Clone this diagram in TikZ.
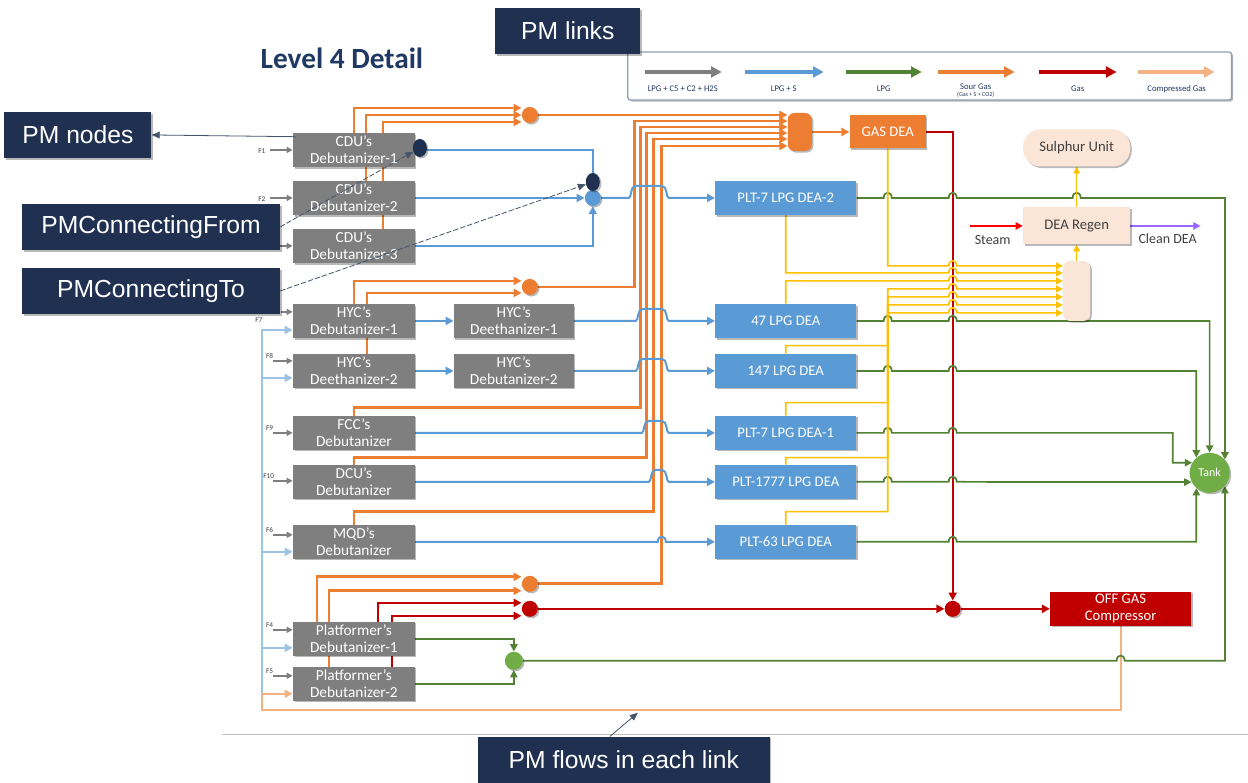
\documentclass[tikz,border=0pt]{standalone}
\usepackage{fontspec}
\setmainfont{Carlito}
\newfontfamily\arialf{Liberation Sans}
\usetikzlibrary{arrows.meta,calc,shapes.geometric,shadows}
\pgfdeclarelayer{paper}
\pgfdeclarelayer{bg}
\pgfsetlayers{paper,bg,main}

\definecolor{boxgray}{HTML}{7F7F7F}
\definecolor{lpgblue}{HTML}{5B9BD5}
\definecolor{lightblue}{HTML}{9DC3E6}
\definecolor{sour}{HTML}{ED7D31}
\definecolor{comp}{HTML}{F4B183}
\definecolor{gasred}{HTML}{C00000}
\definecolor{lpggreen}{HTML}{548235}
\definecolor{tankgreen}{HTML}{70AD47}
\definecolor{amine}{HTML}{FFC000}
\definecolor{pmnavy}{HTML}{1F3050}
\definecolor{titleblue}{HTML}{1F3864}
\definecolor{beige}{HTML}{FBE5D6}
\definecolor{cleanpurple}{HTML}{9966FF}
\definecolor{steamred}{HTML}{FF0000}
\definecolor{annotgray}{HTML}{44546A}
\definecolor{darktext}{HTML}{404040}
\definecolor{legborder}{HTML}{8EA0B8}

\tikzset{
  shad/.style={drop shadow={shadow xshift=1.2pt,shadow yshift=-1.2pt,opacity=.28,fill=black}},
  unitbox/.style={rectangle,fill=boxgray,text=white,minimum width=91.5pt,minimum height=25.5pt,
    inner sep=0pt,align=center,font=\fontsize{11.5}{12.8}\selectfont,shad},
  deabox/.style={rectangle,fill=lpgblue,text=white,minimum width=105.75pt,minimum height=25.5pt,
    inner sep=0pt,font=\fontsize{11}{13}\selectfont,shad},
  pmbox/.style={rectangle,fill=pmnavy,text=white,inner sep=0pt,minimum height=34.5pt,
    font=\arialf\fontsize{18.5}{22}\selectfont,shad},
  junc/.style={circle,minimum size=12pt,inner sep=0pt,shad},
  pmdot/.style={ellipse,fill=pmnavy,minimum width=10.5pt,minimum height=13.5pt,inner sep=0pt,shad},
  flabel/.style={font=\fontsize{5.5}{6}\selectfont,text=darktext,inner sep=0pt},
  legtxt/.style={font=\fontsize{6.5}{7.5}\selectfont,text=titleblue,inner sep=0pt},
  bigtip/.style={-{Triangle[length=6pt,width=6pt]}},
  sourln/.style={draw=sour,line width=2pt,bigtip},
  gasln/.style={draw=gasred,line width=1.8pt,bigtip},
  lpgln/.style={draw=lpgblue,line width=1.5pt,bigtip},
  lbln/.style={draw=lightblue,line width=1.5pt,bigtip},
  compln/.style={draw=comp,line width=1.5pt,bigtip},
  lpggr/.style={draw=lpggreen,line width=1.3pt,-{Triangle[length=5.5pt,width=5.5pt]}},
  amln/.style={draw=amine,line width=1.2pt,-{Triangle[length=5pt,width=5pt]}},
  feedln/.style={draw=boxgray,line width=1.2pt,-{Triangle[length=4.5pt,width=4.5pt]}},
  annotln/.style={draw=annotgray,line width=0.6pt,-{Triangle[length=6pt,width=5pt]}},
  legarr/.style={line width=2.6pt,-{Triangle[length=8pt,width=8pt]}},
  % small jump of a line over a crossing line at x=#1, height y=#2
  smallhop/.style args={#1/#2}{insert path={-- (#1-4,#2) .. controls (#1-4,#2-7) and (#1+4,#2-7) .. (#1+4,#2)}},
  % wide jump over a bundle of lines from x=#1 to x=#2 at height y=#3
  bighop/.style args={#1/#2/#3}{insert path={-- (#1,#3) .. controls (#1+3,#3) and (#1+1,#3-12) .. (#1+7,#3-12)
      -- (#2-7,#3-12) .. controls (#2-1,#3-12) and (#2-3,#3) .. (#2,#3)}}
}

\begin{document}
\begin{tikzpicture}[x=0.75pt,y=-0.75pt]

\begin{pgfonlayer}{paper}
  \fill[white] (0,0) rectangle (1248,783);
  \draw[black!25,line width=0.6pt] (222,735) -- (1248,735);
\end{pgfonlayer}
\useasboundingbox (0,0) rectangle (1248,783);

% ---------- title and legend ----------
\node[font=\bfseries\fontsize{22}{26}\selectfont,text=titleblue] (title) at (342,58) {Level 4 Detail};

\node[rectangle,draw=legborder,line width=1pt,fill=white,rounded corners=2pt,
      minimum width=453pt,minimum height=36pt,shad] (legend) at (930,76) {};
\draw[legarr,boxgray]     (645,72) -- (722,72);
\draw[legarr,lpgblue]     (745,72) -- (824,72);
\draw[legarr,lpggreen]    (846,72) -- (922,72);
\draw[legarr,sour]        (938,72) -- (1015,72);
\draw[legarr,gasred]      (1039,72) -- (1117,72);
\draw[legarr,comp]        (1138,72) -- (1215,72);
\node[legtxt] (lg1) at (683,89) {LPG + C5 + C2 + H2S};
\node[legtxt] (lg2) at (784,89) {LPG + S};
\node[legtxt] (lg3) at (884,89) {LPG};
\node[legtxt] (lg4) at (976,87) {Sour Gas};
\node[legtxt,font=\fontsize{4.5}{5}\selectfont] (lg4b) at (976,95) {(Gas + S + CO2)};
\node[legtxt] (lg5) at (1078,89) {Gas};
\node[legtxt] (lg6) at (1177,89) {Compressed Gas};

% ---------- process units ----------
\node[unitbox] (cdu1) at (354,150) {CDU’s\\Debutanizer-1};
\node[unitbox] (cdu2) at (354,198) {CDU’s\\Debutanizer-2};
\node[unitbox] (cdu3) at (354,246) {CDU’s\\Debutanizer-3};
\node[unitbox] (hyc1) at (354,321) {HYC’s\\Debutanizer-1};
\node[unitbox] (hyc2) at (354,371) {HYC’s\\Deethanizer-2};
\node[unitbox,minimum width=90pt] (hyd1) at (514,321) {HYC’s\\Deethanizer-1};
\node[unitbox,minimum width=90pt] (hyd2) at (514,371) {HYC’s\\Debutanizer-2};
\node[unitbox] (fcc) at (354,433) {FCC’s\\Debutanizer};
\node[unitbox] (dcu) at (354,482) {DCU’s\\Debutanizer};
\node[unitbox] (mqd) at (354,542) {MQD’s\\Debutanizer};
\node[unitbox] (plat1) at (354,639) {Platformer’s\\Debutanizer-1};
\node[unitbox] (plat2) at (354,684) {Platformer’s\\Debutanizer-2};

% feed labels
\node[flabel] (f1) at (262,151) {F1};
\node[flabel] (f2) at (262,199) {F2};
\node[flabel] (f7) at (259,320) {F7};
\node[flabel] (f8) at ($(hyc2.west)+(-23,-15)$) {F8};
\node[flabel] (f9) at ($(fcc.west)+(-23,-5)$) {F9};
\node[flabel] (f10) at ($(dcu.west)+(-24,-6)$) {F10};
\node[flabel] (f6) at ($(mqd.west)+(-23,-12)$) {F6};
\node[flabel] (f4) at ($(plat1.west)+(-23,-14)$) {F4};
\node[flabel] (f5) at ($(plat2.west)+(-23,-13)$) {F5};

% DEA absorbers
\node[deabox] (dea72) at (786,198) {PLT-7 LPG DEA-2};
\node[deabox] (dea47) at (786,321) {47 LPG DEA};
\node[deabox] (dea147) at (786,371) {147 LPG DEA};
\node[deabox] (dea71) at (786,433) {PLT-7 LPG DEA-1};
\node[deabox] (dea1777) at (786,482) {PLT-1777 LPG DEA};
\node[deabox] (dea63) at (786,542) {PLT-63 LPG DEA};

\node[rectangle,fill=sour,text=white,minimum width=57pt,minimum height=24.75pt,inner sep=0pt,
      font=\fontsize{11}{12}\selectfont,shad] (gasdea) at (888,132) {GAS DEA};
\node[rectangle,fill=sour,rounded corners=5pt,minimum width=18pt,minimum height=28.5pt,shad] (omerge) at (800,132) {};

\node[rectangle,fill=gasred,text=white,minimum width=105.75pt,minimum height=25.5pt,inner sep=0pt,align=center,
      font=\fontsize{11}{12.8}\selectfont,shad] (offgas) at (1121,609) {OFF GAS\\Compressor};

\node[rectangle,fill=beige,text=darktext,minimum width=80.25pt,minimum height=27.75pt,inner sep=0pt,
      font=\fontsize{11}{13}\selectfont,shad] (regen) at (1077,226) {DEA Regen};
\node[rectangle,fill=beige,text=darktext,rounded corners=13pt,minimum width=80.25pt,minimum height=27.75pt,
      inner sep=0pt,font=\fontsize{11}{13}\selectfont,shad] (sulphur) at (1077,148) {Sulphur Unit};
\node[rectangle,fill=beige,rounded corners=5pt,minimum width=20.25pt,minimum height=45pt,shad] (bmerge) at (1077,291) {};
\node[font=\fontsize{10.5}{12}\selectfont,text=darktext] (steamlbl) at (993,240) {Steam};
\node[font=\fontsize{10.5}{12}\selectfont,text=darktext] (cleanlbl) at (1168,239) {Clean DEA};

\node[circle,fill=tankgreen,text=white,minimum size=30pt,inner sep=0pt,font=\fontsize{9}{10}\selectfont,shad] (tank) at (1210,473) {Tank};

% junctions
\node[junc,fill=sour] (ocirc1) at (530,115) {};
\node[junc,fill=sour] (ocirc2) at (530,287) {};
\node[junc,fill=sour] (ocirc3) at (530,584) {};
\node[junc,fill=gasred] (rcirc1) at (530,609) {};
\node[junc,fill=gasred] (rcirc2) at (953,609) {};
\node[junc,fill=tankgreen,minimum size=13.5pt] (gcirc) at (514,661) {};
\node[junc,fill=lpgblue] (bcirc) at (593,198) {};
\node[pmdot] (navy1) at (420,148) {};
\node[pmdot] (navy2) at (593,182) {};

\coordinate (lb0) at (262,694);
\coordinate (steamin) at (970,226);
\coordinate (cleanout) at (1201,226);

% ---------- streams ----------
\begin{pgfonlayer}{bg}
  % sour gas
  \draw[sourln] (cdu1.north) |- (ocirc1.west |- 0,108);
  \draw[sourln] ($(cdu2.north)+(12,0)$) |- (ocirc1.west |- 0,115);
  \draw[sourln] ($(cdu3.north)+(29,0)$) |- (ocirc1.west |- 0,122);
  \draw[sourln] (ocirc1) -- (omerge.west |- ocirc1);
  \draw[sourln] (hyc1.north) |- (ocirc2.west |- 0,281);
  \draw[sourln] ($(hyc2.north)+(13,0)$) |- (ocirc2.west |- 0,293);
  \draw[sourln] (ocirc2) -| (635,121) -- (omerge.west |- 0,121);
  \draw[sourln] (fcc.north) -- ++(0,-8) -| (641,127) -- (omerge.west |- 0,127);
  \draw[sourln] (dcu.north) -- ++(0,-7) -| (647,133) -- (omerge.west |- 0,133);
  \draw[sourln] (mqd.north) -- ++(0,-13) -| (654,139) -- (omerge.west |- 0,139);
  \draw[sourln] ($(plat1.north)+(-37,0)$) |- (ocirc3.west |- 0,577);
  \draw[sourln] ($(plat2.north)+(-25,0)$) |- (ocirc3.west |- 0,591);
  \draw[sourln] (ocirc3) -| (662,146) -- (omerge.west |- 0,146);
  \draw[sourln] (omerge) -- (gasdea);

  % gas
  \draw[gasln] ($(plat1.north)+(24,0)$) |- (rcirc1.west |- 0,603);
  \draw[gasln] ($(plat2.north)+(38,0)$) |- (rcirc1.west |- 0,616);
  \draw[gasln] (rcirc1) -- (rcirc2);
  \draw[gasln] (rcirc2) -- (offgas);
  \draw[gasln] (gasdea.east) -| (rcirc2);

  % LPG + S
  \draw[lpgln] (cdu1.east) -| (bcirc);
  \draw[lpgln] (cdu2.east) -- (bcirc);
  \draw[lpgln] (cdu3.east) -| (bcirc);
  \draw[lpgln] (bcirc) [bighop=629/669/198] -- (dea72);
  \draw[lpgln] (hyc1) -- (hyd1);
  \draw[lpgln] (hyc2) -- (hyd2);
  \draw[lpgln] (hyd1.east) [bighop=636/669/321] -- (dea47);
  \draw[lpgln] (hyd2.east) [bighop=636/669/371] -- (dea147);
  \draw[lpgln] (fcc.east) [bighop=642/669/433] -- (dea71);
  \draw[lpgln] (dcu.east) [bighop=649/669/482] -- (dea1777);
  \draw[lpgln] (mqd.east) [smallhop=662/542] -- (dea63);

  % light blue feed header
  \draw[lbln] (lb0) |- ($(hyc1.west)+(0,9)$);
  \draw[lbln] (lb0 |- 0,378) -- ($(hyc2.west)+(0,7)$);
  \draw[lbln] (lb0 |- 0,552) -- ($(mqd.west)+(0,10)$);
  \draw[lbln] (lb0 |- 0,648) -- ($(plat1.west)+(0,9)$);

  % compressed gas return
  \draw[compln] (offgas.south) -- (offgas.south |- 0,710) -| (lb0) -- (plat2.west |- lb0);

  % feeds
  \draw[feedln] (f1.east |- cdu1.west) ++(4,0) -- (cdu1.west);
  \draw[feedln] (f2.east |- cdu2.west) ++(4,0) -- (cdu2.west);
  \draw[feedln] ($(cdu3.west)+(-13,0)$) -- (cdu3.west);
  \draw[feedln] ($(hyc1.west)+(-12,-9)$) -- ($(hyc1.west)+(0,-9)$);
  \draw[feedln] ($(hyc2.west)+(-20,-10)$) -- ($(hyc2.west)+(0,-10)$);
  \draw[feedln] ($(fcc.west)+(-20,0)$) -- (fcc.west);
  \draw[feedln] ($(dcu.west)+(-20,-1)$) -- ($(dcu.west)+(0,-1)$);
  \draw[feedln] ($(mqd.west)+(-20,-7)$) -- ($(mqd.west)+(0,-7)$);
  \draw[feedln] ($(plat1.west)+(-20,-9)$) -- ($(plat1.west)+(0,-9)$);
  \draw[feedln] ($(plat2.west)+(-20,-8)$) -- ($(plat2.west)+(0,-8)$);

  % LPG to tank
  \draw[lpggr] (plat1.east) -| (gcirc);
  \draw[lpggr] (plat2.east) -| (gcirc);
  \draw[lpggr] (gcirc) [smallhop=1121/661] -| (tank.-41);
  \draw[lpggr] (dea72.east) [smallhop=888/198] [smallhop=953/198] [smallhop=1077/198] -| (tank.41);
  \draw[lpggr] (dea47.east) [smallhop=888/321] [smallhop=953/321] -| (tank.90);
  \draw[lpggr] (dea147.east) [smallhop=888/371] [smallhop=953/371] -| (tank.131);
  \draw[lpggr] (dea71.east) [smallhop=888/433] [smallhop=953/433] -- (1173,433) |- (tank.150);
  \draw[lpggr] (dea1777.east) [smallhop=888/482] [smallhop=953/482] -- (tank.-153);
  \draw[lpggr] (dea63.east) [smallhop=953/542] -| (tank.-131);

  % rich amine to regeneration
  \draw[amln] (gasdea.south) -- (gasdea.south |- 0,266) [smallhop=953/266] -- (bmerge.west |- 0,266);
  \draw[amln] (dea72.south) -- (dea72.south |- 0,273) [smallhop=953/273] -- (bmerge.west |- 0,273);
  \draw[amln] (dea47.north) -- (dea47.north |- 0,281) [smallhop=953/281] -- (bmerge.west |- 0,281);
  \draw[amln] (dea147.north) -- ++(0,-8) -| (888,289) [smallhop=953/289] -- (bmerge.west |- 0,289);
  \draw[amln] (dea71.north) -- ++(0,-13) -| (888,297) [smallhop=953/297] -- (bmerge.west |- 0,297);
  \draw[amln] (dea1777.north) -- ++(0,-7) -| (888,305) [smallhop=953/305] -- (bmerge.west |- 0,305);
  \draw[amln] (dea63.north) -- ++(0,-13) -| (888,313) [smallhop=953/313] -- (bmerge.west |- 0,313);
  \draw[amln] (bmerge) -- (regen);
  \draw[amln] (regen) -- (sulphur);

  \draw[draw=steamred,line width=1.3pt,-{Triangle[length=5.5pt,width=5.5pt]}] (steamin) -- (regen.west);
  \draw[draw=cleanpurple,line width=1.3pt,-{Triangle[length=5.5pt,width=5.5pt]}] (regen.east) -- (cleanout);
\end{pgfonlayer}

% ---------- PM annotations ----------
\node[pmbox,minimum width=108.75pt] (pmlinks) at (568,31) {PM links};
\node[pmbox,minimum width=110.25pt] (pmnodes) at (78,135) {PM nodes};
\node[pmbox,minimum width=193.5pt] (pmfrom) at (151,227) {PMConnectingFrom};
\node[pmbox,minimum width=193.5pt] (pmto) at (151,291) {PMConnectingTo};
\node[pmbox,minimum width=219pt] (pmflows) at (624,760) {PM flows in each link};
\coordinate (flowtip) at (638,713);

\draw[annotln] ($(cdu1.north west)+(3,4)$) -- (pmnodes.east);
\draw[annotln,dash pattern=on 4pt off 1.5pt] (pmfrom.east) -- (navy1);
\draw[annotln,dash pattern=on 4pt off 1.5pt] (pmto.east) -- (navy2);
\draw[annotln] ($(pmflows.north)+(-14,0)$) -- (flowtip);

\end{tikzpicture}
\end{document}
